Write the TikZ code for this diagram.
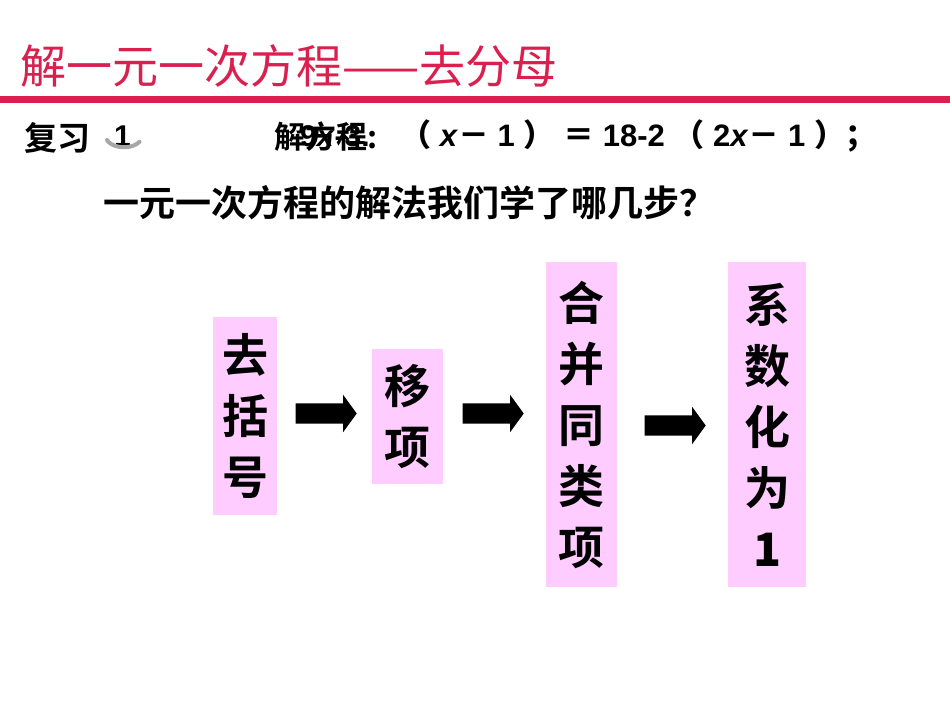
\documentclass[tikz,border=0pt]{standalone}
\usepackage{fontspec}
\setmainfont{Liberation Sans}
\newfontfamily\cjk{Noto Sans CJK SC}
\newfontfamily\cjkb{Noto Sans CJK SC Bold}
\usetikzlibrary{shapes.arrows}
\definecolor{tpink}{HTML}{D9204F}
\definecolor{bpink}{HTML}{FFCCFF}
\begin{document}
\begin{tikzpicture}[x=1pt,y=1pt,
  stepbox/.style={fill=bpink,inner sep=0pt,align=center,font=\cjkb\fontsize{46}{61}\selectfont},
  blockarrow/.style={single arrow,fill=black,minimum height=61pt,minimum width=37pt,inner xsep=0pt,inner ysep=10pt,single arrow head extend=8.5pt,single arrow head indent=0pt,single arrow tip angle=108}]
\useasboundingbox (0,0) rectangle (950,-713);
\node[anchor=base west,text=tpink,font=\cjk\fontsize{46}{50}\selectfont,inner sep=0] (title) at (20,-83) {解一元一次方程——去分母};
\fill[tpink] (0,-96) rectangle (950,-103);
\node[anchor=base west,font=\cjkb\fontsize{33}{35}\selectfont,inner sep=0] (rev) at (24,-150) {复习};
\node[anchor=base west,font=\bfseries\fontsize{30}{32}\selectfont,inner sep=0] (one) at (114,-146) {1};
\draw[gray!70,line width=4pt,line cap=round] (107,-140) arc (200:330:18 and 11);
\node[anchor=base west,font=\cjkb\fontsize{31}{33}\selectfont,inner sep=0] (eq1) at (274,-148) {解方程:};
\node[anchor=base west,font=\bfseries\fontsize{30}{32}\selectfont,inner sep=0] (eq2) at (300,-146) {9\textit{x}-3.};
\node[anchor=base west,font=\bfseries\fontsize{31}{33}\selectfont,inner sep=0] (eq3) at (400,-146) {{\cjkb（} \textit{x}{\cjkb －} 1 {\cjkb）} {\cjkb ＝} 18-2 {\cjkb（} 2\textit{x}{\cjkb －} 1 {\cjkb）}{\cjkb；}};
\node[anchor=base west,font=\cjkb\fontsize{36}{38}\selectfont,inner sep=0] (q) at (103,-216) {一元一次方程的解法我们学了哪几步？};
\node[stepbox,minimum width=64pt,minimum height=198pt] (b1) at (245,-416) {去\\括\\号};
\node[stepbox,minimum width=71pt,minimum height=135pt] (b2) at (407.5,-416.5) {移\\项};
\node[stepbox,minimum width=71pt,minimum height=325pt] (b3) at (581.5,-424.5) {合\\并\\同\\类\\项};
\node[stepbox,minimum width=78pt,minimum height=325pt] (b4) at (767,-424.5) {系\\数\\化\\为\\{\bfseries 1}};
\node[blockarrow] (a1) at (322.5,-413.5) {};
\node[blockarrow] (a2) at (489.5,-413.5) {};
\node[blockarrow] (a3) at (671.5,-425.5) {};
\end{tikzpicture}
\end{document}
